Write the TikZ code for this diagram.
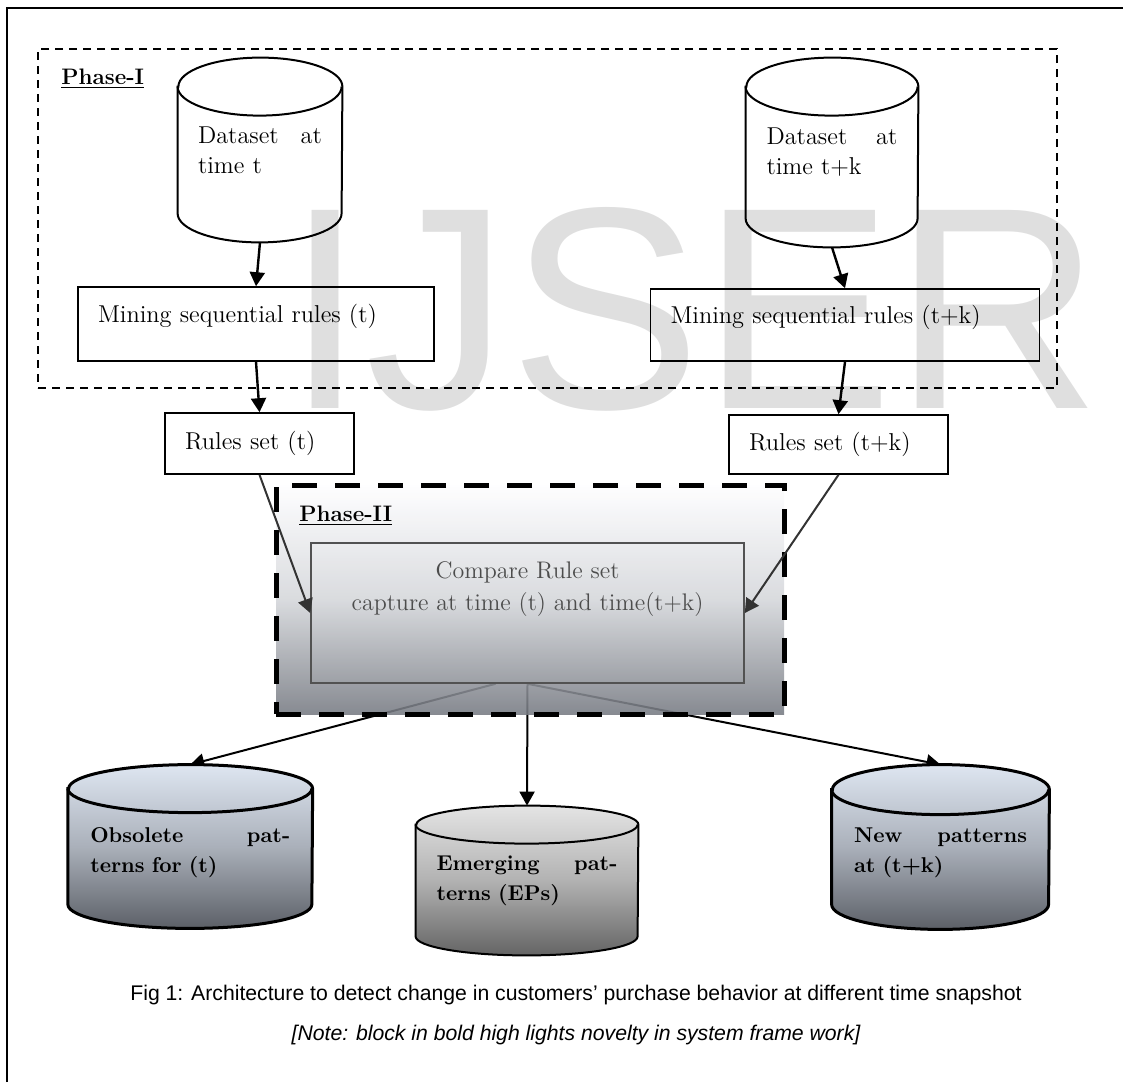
\documentclass[tikz,border=0pt]{standalone}
\usepackage{fontspec}
\usepackage{tikz}
\usetikzlibrary{positioning}
\usetikzlibrary{arrows.meta}

\newfontfamily\capfont{Liberation Sans}

\definecolor{dbtop}{RGB}{222,230,241}
\definecolor{dbmid}{RGB}{170,176,186}
\definecolor{dbbot}{RGB}{92,96,103}
\definecolor{eptop}{RGB}{228,228,228}
\definecolor{epmid}{RGB}{178,178,178}
\definecolor{epbot}{RGB}{100,100,100}
\definecolor{phtop}{RGB}{254,254,255}
\definecolor{phmid}{RGB}{212,214,218}
\definecolor{phbot}{RGB}{118,122,130}
\definecolor{wmgray}{RGB}{223,223,223}

\pgfdeclarelayer{under}
\pgfdeclarelayer{shade}
\pgfsetlayers{under,shade,main}

% drum outline round a node: node, x radius, y radius, fill style, line width
\newcommand{\drumshape}[5]{%
  \path[#4, line width=#5] ([yshift=-#3]#1.north west) -- ([yshift=#3]#1.south west)
    arc[start angle=180, end angle=360, x radius=#2, y radius=#3]
    -- ([yshift=-#3]#1.north east)
    arc[start angle=0, end angle=180, x radius=#2, y radius=#3] -- cycle;
  \draw[line width=#5] ([yshift=-#3]#1.north west)
    arc[start angle=180, end angle=360, x radius=#2, y radius=#3];
}

\tikzset{
  plain/.style={font=\fontsize{12.2}{15}\selectfont},
  boldtxt/.style={font=\fontsize{10.7}{15}\selectfont\bfseries},
  stepbox/.style={draw, line width=0.8pt, plain, align=left, inner xsep=10pt, inner ysep=0pt},
  db/.style={inner sep=0pt, align=left, plain},
  outdb/.style={db, boldtxt},
  link/.style={-{Triangle[length=7pt,width=7.5pt]}, line width=1.2pt},
  phaselbl/.style={anchor=base west, inner sep=0pt, font=\fontsize{11.2}{13}\selectfont\bfseries},
}

\begin{document}
\begin{tikzpicture}[x=0.5pt,y=-0.5pt]
\useasboundingbox (0,0) rectangle (1123,1082);
\draw[line width=1pt] (7,1082) -- (7,7.5) -- (1123,7.5);

\begin{pgfonlayer}{under}
\node[anchor=base west, inner sep=0pt, text=wmgray, font=\capfont\fontsize{144}{150}\selectfont] (wmark) at (285,408) {IJSER};
\end{pgfonlayer}

% phase one
\node[draw, line width=1pt, dash pattern=on 4.2pt off 2.8pt, minimum width=509.5pt, minimum height=169.5pt] (ph1) at (547.5,218.5) {};
\node[phaselbl] (ph1lbl) at (61,84) {\underline{Phase-I}};

\node[db, minimum width=82pt, minimum height=92pt, text width=62pt] (dsT) at (260,150) {Dataset\hfill at\\time t};
\node[db, minimum width=86pt, minimum height=94.5pt, text width=65.5pt] (dsTK) at (832,152.5) {Dataset\hfill at\\time t+k};
\node[stepbox, minimum height=37pt, text width=158pt] (mineT) at (256,324) {Mining sequential rules (t)\\[-4pt]\mbox{}};
\node[stepbox, minimum height=36pt, text width=174.5pt] (mineTK) at (845,325) {Mining sequential rules (t+k)\\[-4pt]\mbox{}};
\node[stepbox, minimum height=30.5pt, text width=74.5pt] (rulesT) at (259.5,443.5) {Rules set (t)};
\node[stepbox, minimum height=29.5pt, text width=89.5pt] (rulesTK) at (838.5,444.5) {Rules set (t+k)};

\draw[link] (dsT.south) -- (mineT.north);
\draw[link] (dsTK.south) -- (mineTK.north);
\draw[link] (mineT.south) -- (rulesT.north);
\draw[link] (mineTK.south) -- (rulesTK.north);

% phase two
\begin{pgfonlayer}{shade}
\node[draw, line width=2.5pt, dash pattern=on 12.5pt off 9pt, top color=phtop, bottom color=phbot, middle color=phmid, fill opacity=0.88, minimum width=254pt, minimum height=114.5pt] (ph2) at (530,599.5) {};
\end{pgfonlayer}
\node[phaselbl] (ph2lbl) at (299,521) {\underline{Phase-II}};

\node[draw=black!68, line width=0.8pt, text=black!70, align=center, font=\fontsize{12}{16}\selectfont, minimum width=216.5pt, minimum height=70pt] (cmp) at (527.5,613) {Compare Rule set\\capture at time (t) and time(t+k)\\[11pt]\mbox{}};

\draw[link, line width=1pt, black!80] (rulesT.south) -- (cmp.west);
\draw[link, line width=1pt, black!80] (rulesTK.south) -- (cmp.east);

\node[outdb, minimum width=122pt, minimum height=81.5pt, text width=100pt] (obsl) at (190.25,846.5) {\rule{0pt}{13.5pt}Obsolete\hfill pat-\\terns for (t)};
\node[outdb, minimum width=111pt, minimum height=74.5pt, text width=90.5pt] (emrg) at (527,880.5) {Emerging\hfill pat-\\terns (EPs)};
\node[outdb, minimum width=108.5pt, minimum height=82pt, text width=86.5pt] (newp) at (940.5,847) {\rule{0pt}{13.5pt}New\hfill patterns\\at (t+k)};

\begin{pgfonlayer}{shade}
\drumshape{dsT}{41pt}{14.5pt}{draw}{1pt}
\drumshape{dsTK}{43pt}{14.5pt}{draw}{1pt}
\drumshape{obsl}{61pt}{12pt}{draw, top color=dbtop, bottom color=dbbot, middle color=dbmid}{1.5pt}
\drumshape{emrg}{55.5pt}{9.5pt}{draw, top color=eptop, bottom color=epbot, middle color=epmid}{1pt}
\drumshape{newp}{54.25pt}{12.5pt}{draw, top color=dbtop, bottom color=dbbot, middle color=dbmid}{1.5pt}
\end{pgfonlayer}

\begin{pgfonlayer}{under}
\draw[link, line width=1pt] ([xshift=-16pt]cmp.south) -- (obsl.north);
\draw[link, line width=1pt] (cmp.south) -- (emrg.north);
\draw[link, line width=1pt] (cmp.south) -- (newp.north);
\end{pgfonlayer}

\node[font=\capfont\fontsize{10.6}{13}\selectfont] (cap) at (576,995) {Fig 1: Architecture to detect change in customers’ purchase behavior at different time snapshot};
\node[font=\capfont\itshape\fontsize{10.6}{13}\selectfont] (note) at (576,1035) {[Note: block in bold high lights novelty in system frame work]};
\end{tikzpicture}
\end{document}
